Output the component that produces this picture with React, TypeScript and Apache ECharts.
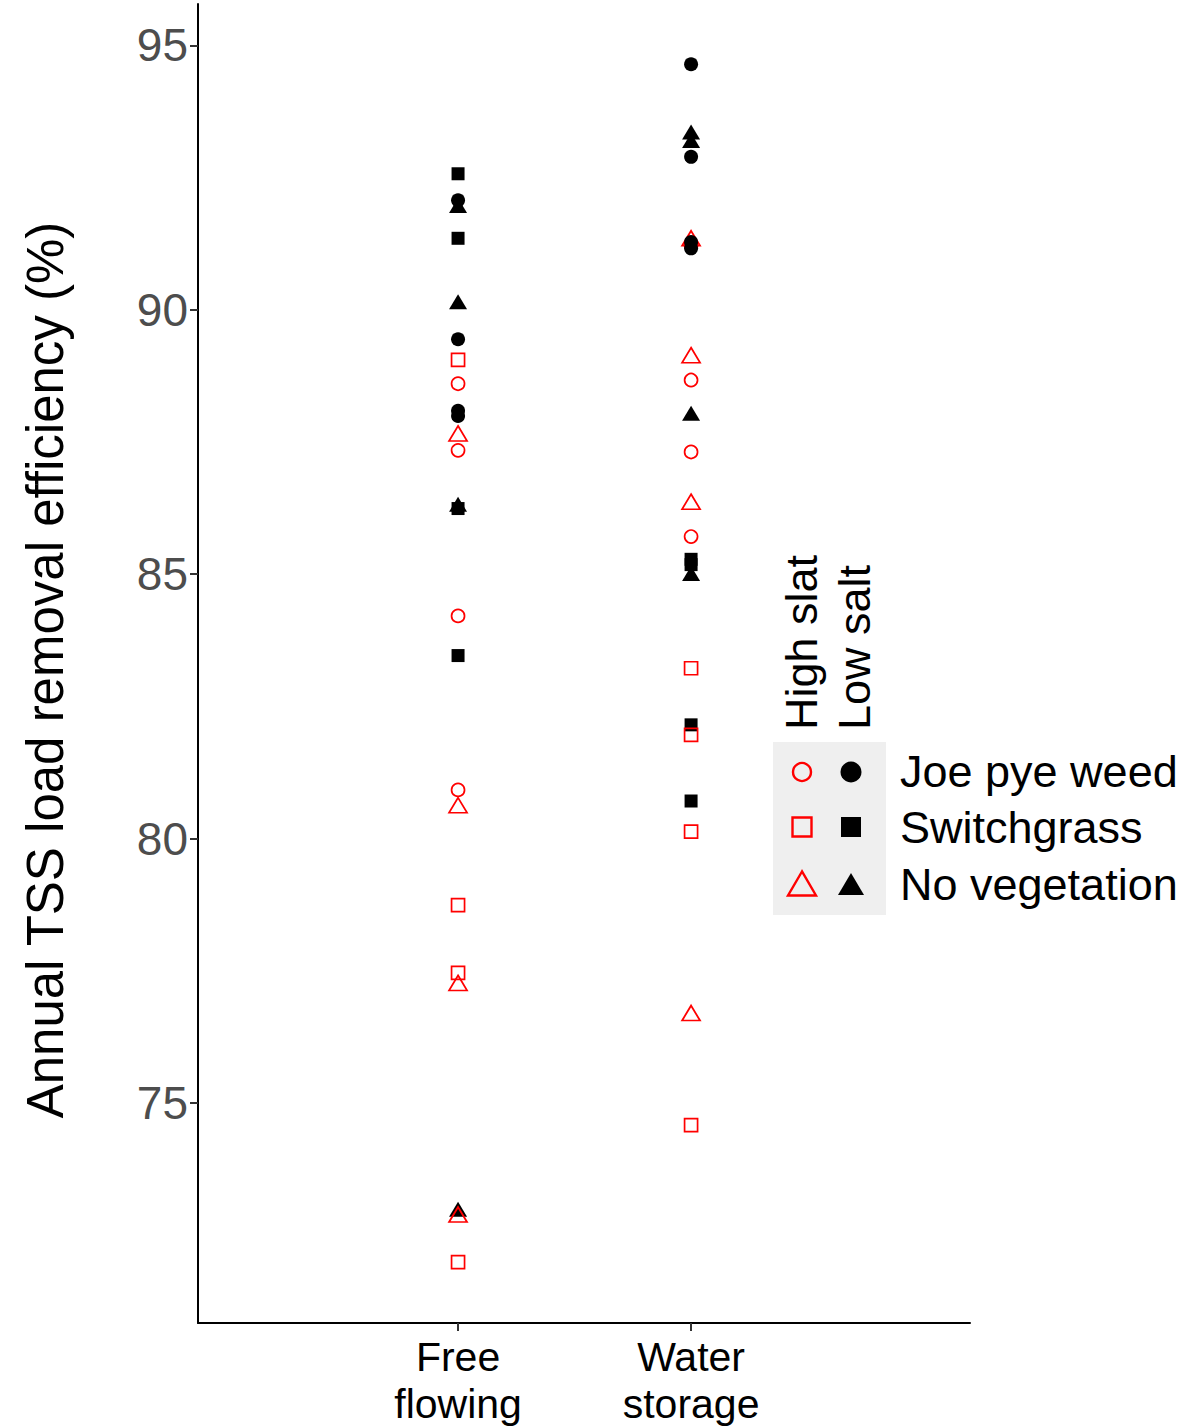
import React, { useEffect, useRef } from "react";
import * as echarts from "echarts";

// Treatment categories on the x axis (positions 1 and 2 on a value axis)
const CATEGORIES = ["Free\nflowing", "Water\nstorage"];
const CATEGORY_POS = [1, 2];
const Y_TICKS = [75, 80, 85, 90, 95];

// Annual TSS load removal efficiency (%), per category: [Free flowing, Water storage]
const LOW_SALT_JOE_PYE = [
  [92.07, 89.44, 88.09, 87.99],
  [94.64, 92.89, 91.28, 91.16],
];
const LOW_SALT_SWITCHGRASS = [
  [92.57, 91.35, 86.24, 83.46],
  [85.28, 85.18, 82.15, 80.71],
];
const LOW_SALT_NO_VEG = [
  [91.97, 90.15, 86.32, 72.99],
  [93.36, 93.2, 88.04, 85.01],
];
const HIGH_SALT_JOE_PYE = [
  [88.6, 87.34, 84.21, 80.92],
  [88.67, 87.31, 85.71, 91.22],
];
const HIGH_SALT_SWITCHGRASS = [
  [89.05, 78.74, 77.46, 71.99],
  [83.22, 81.96, 80.13, 74.58],
];
const HIGH_SALT_NO_VEG = [
  [87.66, 80.63, 77.27, 72.89],
  [91.35, 89.14, 86.37, 76.7],
];

const FONT = "'Liberation Sans', Arial, Helvetica, sans-serif";

function toPoints(groups: number[][]): number[][] {
  const out: number[][] = [];
  groups.forEach((vals, ci) => {
    vals.forEach((v) => out.push([CATEGORY_POS[ci], v]));
  });
  return out;
}

function filledSeries(name: string, symbol: string, size: number | number[], groups: number[][]) {
  return {
    type: "scatter",
    name,
    symbol,
    symbolSize: size,
    data: toPoints(groups),
    itemStyle: { color: "#000000", opacity: 1 },
    emphasis: { disabled: true },
  };
}

function hollowSeries(name: string, symbol: string, size: number | number[], groups: number[][]) {
  return {
    type: "scatter",
    name,
    symbol,
    symbolSize: size,
    data: toPoints(groups),
    itemStyle: {
      color: "rgba(0,0,0,0)",
      borderColor: "#FF0000",
      borderWidth: 1.7,
      opacity: 1,
    },
    emphasis: { disabled: true },
  };
}

export default function App() {
  const ref = useRef<HTMLDivElement>(null);

  useEffect(() => {
    if (!ref.current) return;
    const chart = echarts.init(ref.current, undefined, { renderer: "svg" });

    const legendRows = [
      { label: "Joe pye weed", y: 771 },
      { label: "Switchgrass", y: 827 },
      { label: "No vegetation", y: 884 },
    ];

    const option = {
      animation: false,
      backgroundColor: "#FFFFFF",
      grid: { left: 198, right: 218, top: 4, bottom: 104, containLabel: false },
      xAxis: {
        type: "value",
        min: -0.116,
        max: 3.197,
        splitLine: { show: false },
        axisLine: { show: true, onZero: false, lineStyle: { color: "#000000", width: 2 } },
        axisTick: {
          show: true,
          customValues: CATEGORY_POS,
          length: 8,
          lineStyle: { color: "#333333", width: 2 },
        },
        axisLabel: {
          customValues: CATEGORY_POS,
          formatter: (v: number) => CATEGORIES[Math.round(v) - 1] ?? "",
          color: "#000000",
          fontFamily: FONT,
          fontSize: 41,
          lineHeight: 47,
          margin: 10,
        },
      },
      yAxis: {
        type: "value",
        min: 70.84,
        max: 95.78,
        splitLine: { show: false },
        axisLine: { show: true, onZero: false, lineStyle: { color: "#000000", width: 2 } },
        axisTick: {
          show: true,
          customValues: Y_TICKS,
          length: 8,
          lineStyle: { color: "#333333", width: 2 },
        },
        axisLabel: {
          customValues: Y_TICKS,
          color: "#4D4D4D",
          fontFamily: FONT,
          fontSize: 46,
          margin: 10,
        },
      },
      series: [
        filledSeries("No vegetation (low salt)", "triangle", [18, 15], LOW_SALT_NO_VEG),
        hollowSeries("No vegetation (high salt)", "triangle", [18, 15], HIGH_SALT_NO_VEG),
        hollowSeries("Joe pye weed (high salt)", "circle", 13, HIGH_SALT_JOE_PYE),
        filledSeries("Joe pye weed (low salt)", "circle", 14, LOW_SALT_JOE_PYE),
        filledSeries("Switchgrass (low salt)", "rect", 13, LOW_SALT_SWITCHGRASS),
        hollowSeries("Switchgrass (high salt)", "rect", 13, HIGH_SALT_SWITCHGRASS),
      ],
      graphic: [
        // y axis title
        {
          type: "text",
          x: 45,
          y: 670,
          rotation: Math.PI / 2,
          style: {
            text: "Annual TSS load removal efficiency (%)",
            fontFamily: FONT,
            fontSize: 51,
            fill: "#000000",
            align: "center",
            verticalAlign: "middle",
          },
        },
        // legend column titles
        {
          type: "text",
          x: 801,
          y: 730,
          rotation: Math.PI / 2,
          style: {
            text: "High slat",
            fontFamily: FONT,
            fontSize: 45,
            fill: "#000000",
            align: "left",
            verticalAlign: "middle",
          },
        },
        {
          type: "text",
          x: 854,
          y: 730,
          rotation: Math.PI / 2,
          style: {
            text: "Low salt",
            fontFamily: FONT,
            fontSize: 45,
            fill: "#000000",
            align: "left",
            verticalAlign: "middle",
          },
        },
        // legend key background
        {
          type: "rect",
          shape: { x: 773, y: 742, width: 113, height: 173 },
          style: { fill: "#EFEFEF" },
        },
        // high salt keys (hollow red)
        {
          type: "circle",
          shape: { cx: 802, cy: 772, r: 9 },
          style: { fill: "none", stroke: "#FF0000", lineWidth: 2.4 },
        },
        {
          type: "rect",
          shape: { x: 792.5, y: 817.5, width: 19, height: 19 },
          style: { fill: "none", stroke: "#FF0000", lineWidth: 2.4 },
        },
        {
          type: "polygon",
          shape: { points: [[802, 871.5], [788, 895.5], [816, 895.5]] },
          style: { fill: "none", stroke: "#FF0000", lineWidth: 2.4 },
        },
        // low salt keys (filled black)
        {
          type: "circle",
          shape: { cx: 851, cy: 772, r: 10.5 },
          style: { fill: "#000000" },
        },
        {
          type: "rect",
          shape: { x: 841, y: 817, width: 20, height: 20 },
          style: { fill: "#000000" },
        },
        {
          type: "polygon",
          shape: { points: [[851, 873], [838, 895], [864, 895]] },
          style: { fill: "#000000" },
        },
        // legend labels
        ...legendRows.map((r) => ({
          type: "text",
          x: 900,
          y: r.y,
          style: {
            text: r.label,
            fontFamily: FONT,
            fontSize: 45,
            fill: "#000000",
            align: "left",
            verticalAlign: "middle",
          },
        })),
      ],
    };

    chart.setOption(option as any);
    return () => chart.dispose();
  }, []);

  return (
    <div
      ref={ref}
      style={{ position: "absolute", left: 0, top: 0, width: 1188, height: 1427 }}
    />
  );
}
